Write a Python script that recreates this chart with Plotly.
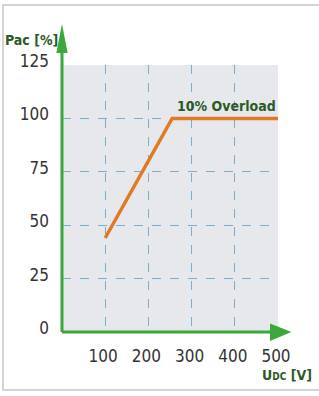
import plotly.graph_objects as go

# Data
udc = [100, 255, 500]
pac = [44, 100, 100]
x_ticks = [100, 200, 300, 400, 500]
y_ticks = [0, 25, 50, 75, 100, 125]
curve_label = "10% Overload"
x_title = "U<span style='font-size:10px'>DC</span> [V]"
y_title = "Pac [%]"

GREEN = "#3aa83a"
DKGREEN = "#2c5a26"
ORANGE = "#e07a24"
FONT = "DejaVu Sans Condensed, Liberation Sans Narrow, Roboto, sans-serif"

fig = go.Figure()
fig.add_trace(go.Scatter(x=udc, y=pac, mode="lines",
                         line=dict(color=ORANGE, width=3.5), hoverinfo="skip"))

fig.update_layout(
    width=319, height=396,
    margin=dict(l=62, r=41, t=65, b=64, autoexpand=False),
    paper_bgcolor="white", plot_bgcolor="#e7e8ec",
    showlegend=False,
    font=dict(family=FONT, size=17, color="#333333"),
    xaxis=dict(range=[0, 500], tickvals=x_ticks, showgrid=True,
               gridcolor="#78aed2", griddash="dash", gridwidth=1,
               zeroline=False, showline=False, ticks="",
               ticklabelstandoff=12, ticklabelshift=-2),
    yaxis=dict(range=[0, 125], tickvals=y_ticks, showgrid=True,
               gridcolor="#78aed2", griddash="dash", gridwidth=1,
               zeroline=False, showline=False, ticks="",
               ticklabelstandoff=12, ticklabelshift=-4),
)

# frame
fig.add_shape(type="rect", xref="paper", yref="paper",
              x0=-0.273, x1=1.3, y0=-0.217, y1=1.2247,
              line=dict(color="#d4d4d4", width=2), layer="below")

# axes with arrows (green)
fig.add_shape(type="line", xref="paper", yref="paper", x0=0, x1=0, y0=0, y1=1.08,
              line=dict(color=GREEN, width=3))
fig.add_shape(type="line", xref="paper", yref="paper", x0=0, x1=0.975, y0=0, y1=0,
              line=dict(color=GREEN, width=3))
fig.add_shape(type="path", xref="paper", yref="paper",
              path="M -0.026 1.045 L 0 1.1536 L 0.026 1.045 Z",
              fillcolor=GREEN, line=dict(color=GREEN, width=0))
fig.add_shape(type="path", xref="paper", yref="paper",
              path="M 0.963 0.032 L 1.062 0 L 0.963 -0.034 Z",
              fillcolor=GREEN, line=dict(color=GREEN, width=0))

fig.add_annotation(x=1.0, y=100, xref="paper", yref="y", text="<b>" + curve_label + "</b>",
                   showarrow=False, xanchor="right", yanchor="bottom", yshift=2,
                   font=dict(family=FONT, size=14, color=DKGREEN))
fig.add_annotation(x=-0.275, y=1.095, xref="paper", yref="paper", text="<b>" + y_title + "</b>",
                   showarrow=False, xanchor="left", yanchor="middle",
                   font=dict(family=FONT, size=14, color=DKGREEN))
fig.add_annotation(x=1.04, y=-0.16, xref="paper", yref="paper", text="<b>" + x_title + "</b>",
                   showarrow=False, xanchor="center", yanchor="middle",
                   font=dict(family=FONT, size=14, color=DKGREEN))

fig.write_html("out.html", config={"displayModeBar": False},
               post_script="document.body.style.margin='0';document.body.style.padding='0';")
